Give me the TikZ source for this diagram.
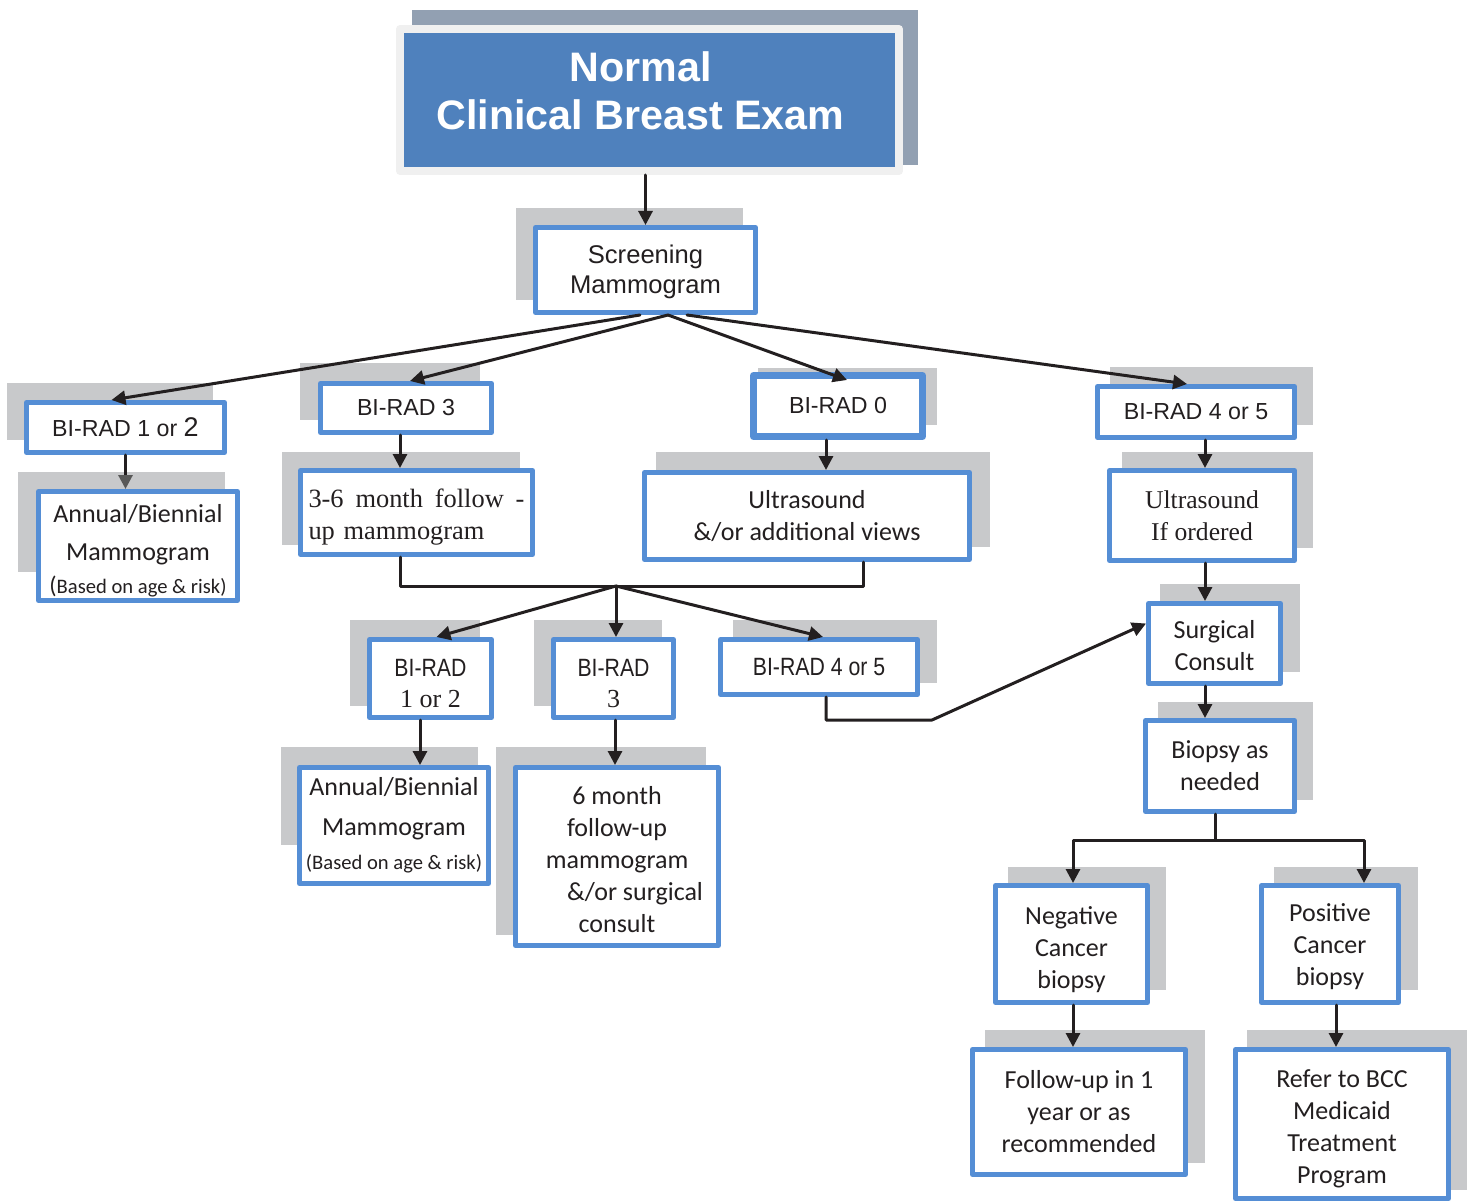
\documentclass[tikz,border=0pt]{standalone}
\usepackage{fontspec}
\setmainfont{Liberation Sans}
\newfontfamily\timesfont{Liberation Serif}
\newfontfamily\calfont{Carlito}
\newfontfamily\narrowfont[FakeStretch=0.85]{Liberation Sans}
\usepackage{xcolor}
\usetikzlibrary{arrows.meta}

\definecolor{boxblue}{RGB}{85,142,213}
\definecolor{shadegray}{RGB}{200,201,203}
\definecolor{titleblue}{RGB}{79,129,189}
\definecolor{titleshade}{RGB}{146,160,178}
\definecolor{titleline}{RGB}{240,240,240}
\definecolor{linkblack}{RGB}{35,31,32}

\tikzset{
  flowbox/.style={draw=boxblue, line width=2.5pt, fill=white, align=center, inner sep=0pt, text=linkblack},
  backbox/.style={fill=shadegray},
  arr/.style={draw=linkblack, line width=1.5pt, -{Triangle[length=7pt,width=7pt]}},
  link/.style={draw=linkblack, line width=1.5pt},
  arialtxt/.style={font=\fontsize{11.6}{14}\selectfont},
  caltxt/.style={font=\calfont\fontsize{13}{16}\selectfont},
}

\begin{document}
\begin{tikzpicture}[line cap=round,line join=round,x=0.5pt,y=-0.5pt]
\useasboundingbox (0,0) rectangle (1475,1203);

% shadows behind the boxes
\fill[titleshade] (412,10) rectangle (918,165);
\fill[backbox] (516,208) rectangle (743,300);
\fill[backbox] (7,383) rectangle (213,440);
\fill[backbox] (300,363) rectangle (480,420);
\fill[backbox] (758,368) rectangle (937,425);
\fill[backbox] (1110,367) rectangle (1313,425);
\fill[backbox] (18,472) rectangle (225,572);
\fill[backbox] (282,452) rectangle (520,545);
\fill[backbox] (656,452) rectangle (990,547);
\fill[backbox] (1122,452) rectangle (1313,548);
\fill[backbox] (350,620) rectangle (480,706);
\fill[backbox] (534,620) rectangle (662,706);
\fill[backbox] (733,620) rectangle (937,683);
\fill[backbox] (1160,584) rectangle (1300,672);
\fill[backbox] (1158,702) rectangle (1313,800);
\fill[backbox] (1008,867) rectangle (1166,990);
\fill[backbox] (1274,867) rectangle (1418,990);
\fill[backbox] (985,1030) rectangle (1205,1163);
\fill[backbox] (1247,1030) rectangle (1467,1190);
\fill[backbox] (281,747) rectangle (478,845);
\fill[backbox] (496,747) rectangle (706,935);

% title and screening
\node[draw=titleline, line width=4pt, fill=titleblue, text=white, inner sep=0pt, minimum width=249.5pt, minimum height=71pt, font=\bfseries\fontsize{20.6}{24}\selectfont] (title) at (649.5,100) {\raisebox{-3pt}[0pt][0pt]{\begin{tabular}{@{}c@{}}Normal\\Clinical Breast Exam\end{tabular}}\hspace*{9pt}};
\node[flowbox, minimum width=110pt, minimum height=42.5pt, font=\fontsize{12.8}{15}\selectfont] (screen) at (645.5,270) {\rule{0pt}{11pt}Screening\\Mammogram};

% first row of results
\node[flowbox, arialtxt, minimum width=99pt, minimum height=25pt] (bi12) at (125.5,427.5) {BI-RAD 1 or {\fontsize{13.5}{14}\selectfont 2}};
\node[flowbox, arialtxt, minimum width=85.5pt, minimum height=24.5pt] (bi3) at (406,408) {BI-RAD 3};
\node[flowbox, arialtxt, line width=3.5pt, minimum width=84.5pt, minimum height=30.5pt] (bi0) at (838,406) {BI-RAD 0};
\node[flowbox, arialtxt, minimum width=98.5pt, minimum height=25.5pt] (bi45) at (1196,412) {BI-RAD 4 or 5};

% second row
\node[flowbox, font=\calfont\fontsize{13}{19}\selectfont, minimum width=99.5pt, minimum height=54.5pt] (ann1) at (138,546) {\rule{0pt}{14pt}Annual/Biennial\\Mammogram\\[-2.5pt]{\fontsize{10.3}{19}\selectfont{\fontsize{12}{19}\selectfont(}Based on age \& risk)}};
\node[flowbox, font=\timesfont\fontsize{13.2}{16}\selectfont, align=left, text width=108pt, minimum width=116pt, minimum height=42pt] (fu36) at (416.5,512.5) {\rule{0pt}{14pt}3-6\hfill month\hfill follow\hfill -\\up mammogram};
\node[flowbox, caltxt, minimum width=162.5pt, minimum height=43.5pt] (us0) at (807,516) {Ultrasound\\\&/or additional views};
\node[flowbox, font=\timesfont\fontsize{12.8}{16}\selectfont, minimum width=92.5pt, minimum height=45pt] (us45) at (1202,515.5) {Ultrasound\\If ordered};

% third row
\node[flowbox, font=\narrowfont\fontsize{12.5}{15.5}\selectfont, minimum width=61pt, minimum height=39pt] (s12) at (430.5,678.5) {\rule{0pt}{14pt}BI-RAD\\{\timesfont\fontsize{13}{15.5}\selectfont 1 or 2}};
\node[flowbox, font=\narrowfont\fontsize{12.5}{15.5}\selectfont, minimum width=60pt, minimum height=39pt] (s3) at (613.5,678.5) {\rule{0pt}{14pt}BI-RAD\\{\timesfont\fontsize{13}{15.5}\selectfont 3}};
\node[flowbox, font=\narrowfont\fontsize{12.5}{15.5}\selectfont, minimum width=98.5pt, minimum height=27.5pt] (s45) at (819,667) {BI-RAD 4 or 5};
\node[flowbox, font=\calfont\fontsize{13}{20}\selectfont, minimum width=94.5pt, minimum height=58pt] (ann2) at (394,825.5) {Annual/Biennial\\Mammogram\\[-3pt]{\fontsize{10.3}{20}\selectfont(Based on age \& risk)}};
\node[flowbox, caltxt, minimum width=101.5pt, minimum height=89pt] (fu6) at (617,856.5) {\rule{0pt}{12pt}6 month\\follow-up\\mammogram\\\hspace*{18pt}\&/or surgical\\consult};

% right column
\node[flowbox, caltxt, minimum width=66pt, minimum height=40pt] (surg) at (1214.5,643.5) {\rule{0pt}{11pt}Surgical\\Consult};
\node[flowbox, caltxt, minimum width=74.5pt, minimum height=45.5pt] (biop) at (1220,766) {Biopsy as\\needed};
\node[flowbox, caltxt, minimum width=76pt, minimum height=58.5pt] (neg) at (1071.5,944) {\rule{0pt}{15pt}Negative\\Cancer\\biopsy};
\node[flowbox, caltxt, minimum width=68.5pt, minimum height=58.5pt] (pos) at (1330,944) {\rule{0pt}{12pt}Positive\\Cancer\\biopsy};
\node[flowbox, caltxt, minimum width=106.5pt, minimum height=62.5pt] (fol) at (1079,1112) {Follow-up in 1\\year or as\\recommended};
\node[flowbox, caltxt, minimum width=106.5pt, minimum height=74.5pt] (bcc) at (1342,1124) {\rule{0pt}{14pt}Refer to BCC\\Medicaid\\Treatment\\Program};

\coordinate (hub) at (616,586);
\coordinate (kink) at (932,720);
\coordinate (split) at (1215,840);

% connectors
\draw[arr] (title.south -| screen.north) -- (screen.north);
\draw[arr] ([xshift=-2.75pt]screen.south) -- ([xshift=-7pt]bi12.north);
\draw[arr] ([xshift=11.25pt]screen.south) -- ([xshift=2pt]bi3.north);
\draw[arr] ([xshift=11.25pt]screen.south) -- ([xshift=4.5pt,yshift=-4pt]bi0.north);
\draw[arr] ([xshift=20.75pt]screen.south) -- ([xshift=-4.5pt]bi45.north);

\draw[link, -{Triangle[length=7pt,width=7pt,color=black!65]}] (bi12.south) -- (bi12.south |- ann1.north);
\draw[arr] ([xshift=-3pt]bi3.south) -- ([xshift=-3pt]bi3.south |- fu36.north);
\draw[arr] ([xshift=-6pt]bi0.south) -- ([xshift=-6pt]bi0.south |- us0.north);
\draw[arr] ([xshift=4.5pt]bi45.south) -- ([xshift=4.5pt]bi45.south |- us45.north);

\draw[link] ([xshift=-8.25pt]fu36.south) |- (hub) -| ([xshift=28pt]us0.south);
\draw[arr] (hub) -- ([xshift=3pt]s12.north);
\draw[arr] (hub) -- ([xshift=1.25pt]s3.north);
\draw[arr] (hub) -- ([xshift=2pt]s45.north);

\draw[arr] ([xshift=-5.25pt]s12.south) -- ([xshift=-5.25pt]s12.south |- ann2.north);
\draw[arr] ([xshift=0.75pt]s3.south) -- ([xshift=0.75pt]s3.south |- fu6.north);
\draw[arr] ([xshift=3.5pt]s45.south) |- (kink) -- ([yshift=10pt]surg.west);

\draw[arr] ([xshift=1.5pt]us45.south) -- ([xshift=1.5pt]us45.south |- surg.north);
\draw[arr] ([xshift=-4.75pt]surg.south) -- ([xshift=-4.75pt]surg.south |- biop.north);
\draw[link] ([xshift=-2.5pt]biop.south) -- (split);
\draw[arr] (split) -| ([xshift=0.75pt]neg.north);
\draw[arr] (split) -| ([xshift=17pt]pos.north);
\draw[arr] ([xshift=0.75pt]neg.south) -- ([xshift=0.75pt]neg.south |- fol.north);
\draw[arr] ([xshift=3pt]pos.south) -- ([xshift=3pt]pos.south |- bcc.north);
\end{tikzpicture}
\end{document}
